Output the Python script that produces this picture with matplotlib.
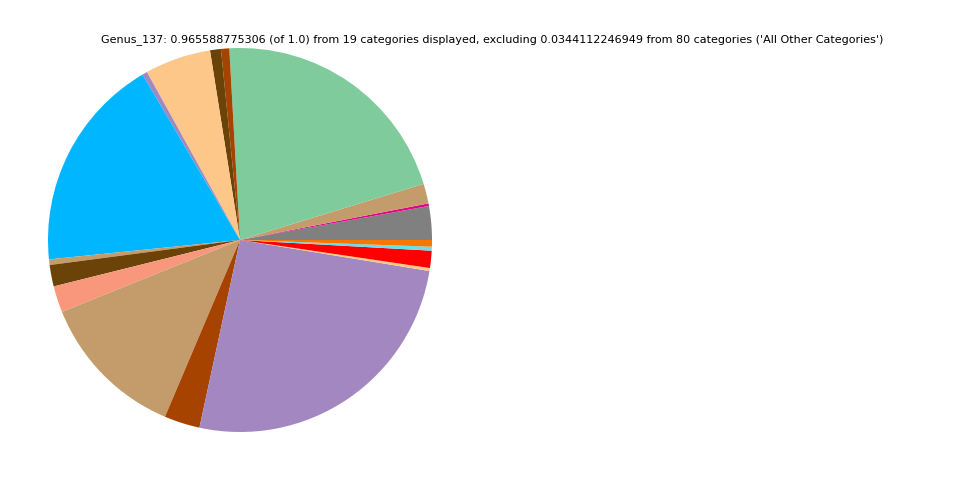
import matplotlib
matplotlib.use("Agg")
import matplotlib.pyplot as plt

# Genus abundances (fraction of 1.0), in drawing order starting at 0 degrees
categories = [
    "Cat01", "Cat02", "Cat03", "Cat04", "Cat05", "Cat06", "Cat07", "Cat08",
    "Cat09", "Cat10", "Cat11", "Cat12", "Cat13", "Cat14", "Cat15", "Cat16",
    "Cat17", "Cat18", "Cat19",
]
values = [
    0.02736, 0.00215, 0.01609, 0.20438, 0.00671, 0.00885, 0.05364, 0.00402,
    0.17515, 0.00456, 0.01743, 0.02146, 0.12070, 0.02897, 0.24918, 0.00241,
    0.01395, 0.00322, 0.00536,
]
colors = [
    "#808080", "#e6008c", "#c49c6c", "#80cb9b", "#a64300", "#6b4207", "#fdc78a",
    "#a387c0", "#00b6ff", "#c49c6c", "#6b4207", "#f9977c", "#c49c6c", "#a64300",
    "#a387c0", "#fdc78a", "#ff0000", "#66e0f0", "#f67800",
]

title = ("Genus_137: 0.965588775306 (of 1.0) from 19 categories displayed, "
         "excluding 0.0344112246949 from 80 categories ('All Other Categories')")

fig = plt.figure(figsize=(9.6, 4.8), dpi=100)
ax = fig.add_axes([48 / 960, 48 / 480, 384 / 960, 384 / 480])
ax.pie(values, colors=colors, startangle=0, counterclock=True,
       wedgeprops=dict(linewidth=0))
ax.set_xlim(-1, 1)
ax.set_ylim(-1, 1)
ax.set_aspect("equal")
ax.axis("off")

fig.text(492 / 960, 1 - 40 / 480, title, ha="center", va="center", fontsize=8)

fig.savefig("out.png", dpi=100)
